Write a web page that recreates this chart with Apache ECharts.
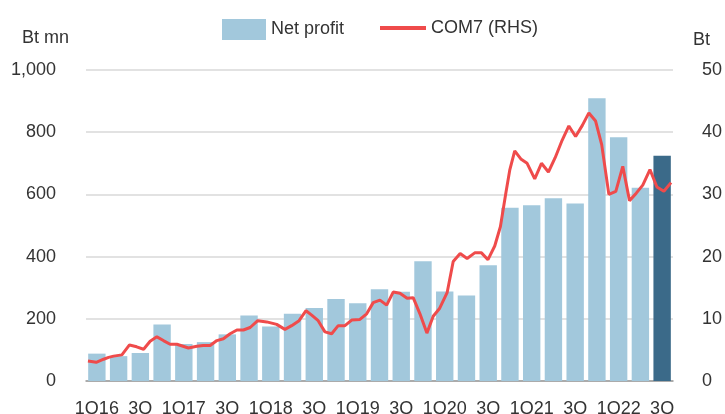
<!DOCTYPE html>
<html>
<head>
<meta charset="utf-8">
<script src="https://cdn.jsdelivr.net/npm/echarts@6/dist/echarts.min.js"></script>
<style>
  html, body { margin: 0; padding: 0; background: #fff; }
  #chart { width: 725px; height: 414px; }
</style>
</head>
<body>
<div id="chart"></div>
<script>
// quarters 1Q16 .. 3Q22 (labels as printed, every other one shown)
const quarters = ['1Q16','2Q','3Q','4Q','1Q17','2Q','3Q','4Q','1Q18','2Q','3Q','4Q','1Q19','2Q','3Q','4Q',
  '1Q20','2Q','3Q','4Q','1Q21','2Q','3Q','4Q','1Q22','2Q','3Q'];
// net profit, Bt mn
const netProfit = [88, 80, 90, 182, 119, 125, 150, 211, 175, 216, 235, 264, 250, 295, 287, 385,
  288, 275, 372, 557, 565, 588, 571, 909, 784, 621, 724];
// COM7 share price (RHS, Bt): position in quarters since start of 1Q16, price
const comTime = [0.09,0.47,0.81,1.04,1.27,1.65,2.00,2.33,2.65,2.95,3.26,3.56,3.87,4.18,4.71,5.10,5.39,5.71,
  6.02,6.32,6.63,6.94,7.24,7.55,7.90,8.31,8.77,9.15,9.46,9.80,10.12,10.38,10.68,10.99,11.30,11.60,11.91,
  12.22,12.60,12.91,13.21,13.52,13.83,14.13,14.44,14.77,15.05,15.36,15.68,15.97,16.27,16.61,16.89,17.21,
  17.53,17.88,18.19,18.49,18.80,19.06,19.31,19.49,19.72,20.00,20.29,20.64,20.95,21.27,21.58,21.90,22.21,
  22.52,22.83,23.13,23.44,23.72,24.05,24.37,24.69,25.00,25.31,25.61,25.94,26.26,26.58,26.91];
const comPrice = [3.2,3.0,3.5,3.8,4.0,4.2,5.8,5.5,5.1,6.4,7.1,6.5,5.9,5.9,5.3,5.6,5.7,5.7,
  6.5,6.8,7.6,8.2,8.2,8.6,9.7,9.5,9.1,8.3,8.9,9.7,11.3,10.6,9.7,7.9,7.6,8.9,8.9,
  9.8,9.9,10.8,12.6,13.0,12.2,14.3,14.1,13.3,13.4,10.8,7.7,10.4,11.7,14.2,19.2,20.5,
  19.7,20.6,20.6,19.5,21.7,24.8,30.2,33.9,37.0,35.7,35.0,32.5,35.0,33.6,35.9,38.7,41.0,
  39.3,41.1,43.1,41.8,38.0,30.0,30.5,34.5,29.0,30.2,31.5,34.0,31.2,30.5,31.9];

const FONT = 'Liberation Sans';
const chart = echarts.init(document.getElementById('chart'));

const legendText = { fontSize: 18, color: '#333', fontFamily: FONT };

const option = {
  animation: false,
  textStyle: { fontFamily: FONT },
  legend: [
    {
      left: 217,
      top: 14,
      itemWidth: 44,
      itemHeight: 21,
      textStyle: legendText,
      data: [{ name: 'Net profit', icon: 'rect' }]
    },
    {
      left: 375,
      top: 14,
      itemWidth: 46,
      itemHeight: 4,
      textStyle: legendText,
      data: [{ name: 'COM7 (RHS)', icon: 'rect' }]
    }
  ],
  graphic: [
    { type: 'text', left: 22, top: 29, style: { text: 'Bt mn', fontSize: 18, fontFamily: FONT, fill: '#333' } },
    { type: 'text', left: 693, top: 31, style: { text: 'Bt', fontSize: 18, fontFamily: FONT, fill: '#333' } }
  ],
  grid: { left: 86, right: 52, top: 70, bottom: 33, outerBoundsMode: 'none' },
  xAxis: [
    {
      type: 'category',
      data: quarters,
      axisLine: { lineStyle: { color: '#999', width: 1.5 } },
      axisTick: { interval: 0, length: 7, lineStyle: { color: '#999', width: 1.5 } },
      axisLabel: { interval: 1, margin: 19, fontSize: 18, color: '#333', fontFamily: FONT }
    },
    { type: 'value', min: 0, max: 27, show: false }
  ],
  yAxis: [
    {
      type: 'value',
      min: 0, max: 1000, interval: 200,
      axisLine: { show: false },
      axisTick: { show: false },
      axisLabel: {
        margin: 30, fontSize: 18, color: '#333', fontFamily: FONT,
        formatter: v => v.toLocaleString('en-US')
      },
      splitLine: { lineStyle: { color: '#d9d9d9', width: 1.5 } }
    },
    {
      type: 'value',
      position: 'right',
      min: 0, max: 50, interval: 10,
      axisLine: { show: false },
      axisTick: { show: false },
      axisLabel: { margin: 29, fontSize: 18, color: '#333', fontFamily: FONT },
      splitLine: { show: false }
    }
  ],
  series: [
    {
      name: 'Net profit',
      type: 'bar',
      barCategoryGap: '20%',
      itemStyle: { color: '#a2c8dc' },
      data: netProfit.map((v, i) => i === netProfit.length - 1
        ? { value: v, itemStyle: { color: '#3b6a89' } }
        : v)
    },
    {
      name: 'COM7 (RHS)',
      type: 'line',
      xAxisIndex: 1,
      yAxisIndex: 1,
      symbol: 'none',
      lineStyle: { color: '#ef4b4b', width: 3 },
      itemStyle: { color: '#ef4b4b' },
      data: comTime.map((t, i) => [t, comPrice[i]]),
      z: 3
    }
  ]
};
chart.setOption(option);
</script>
</body>
</html>
